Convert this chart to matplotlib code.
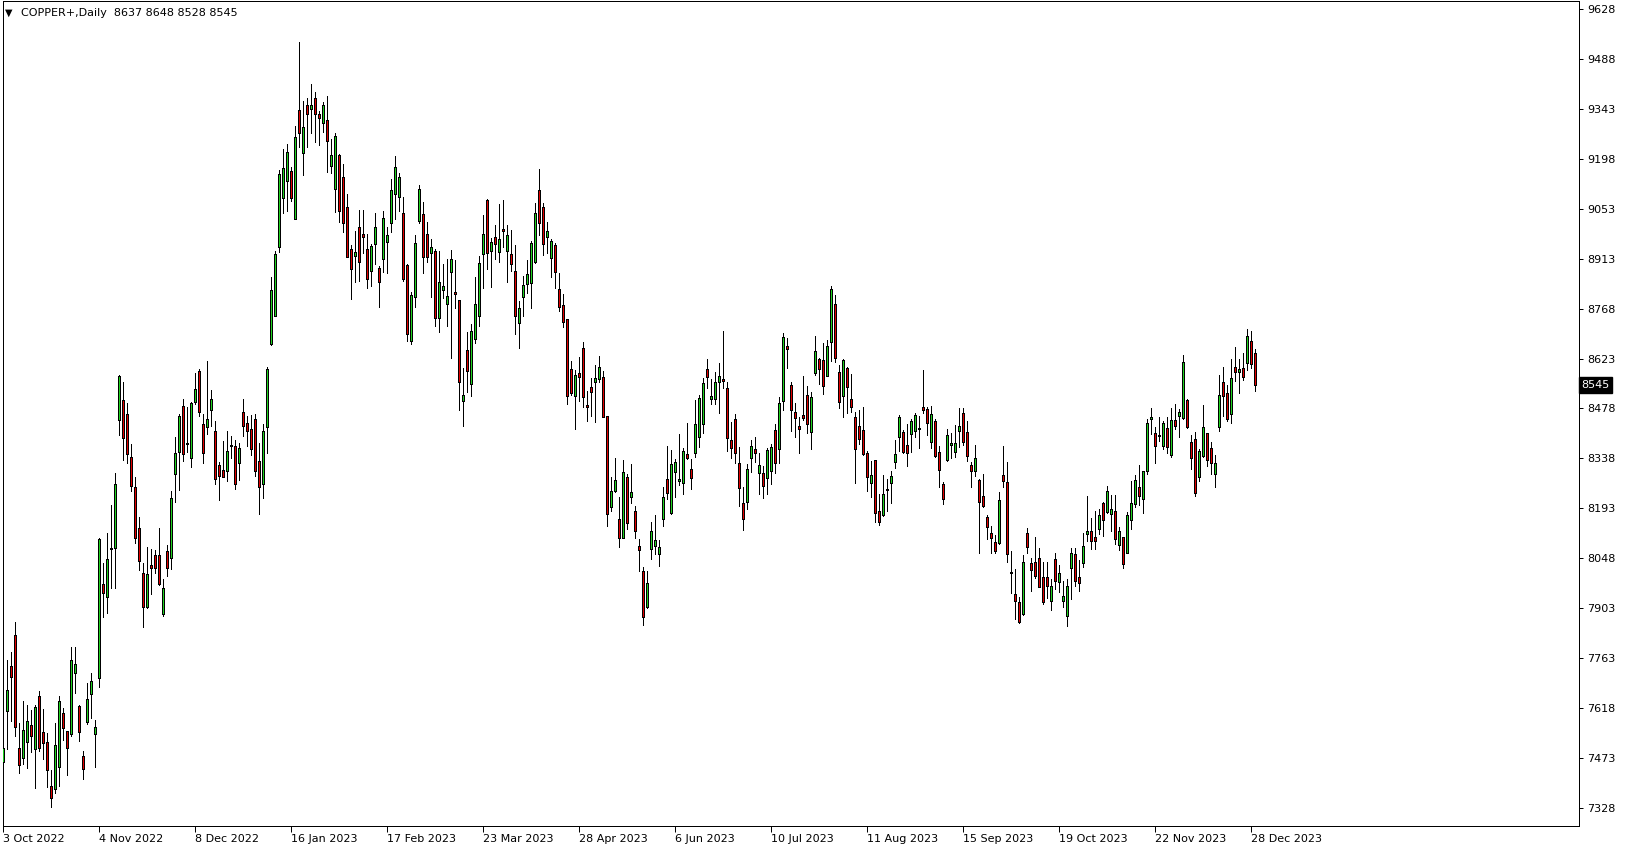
import matplotlib
matplotlib.use("Agg")
import matplotlib.pyplot as plt
import numpy as np

# COPPER+ daily candles, 3 Oct 2022 .. 29 Dec 2023
opens = [
    7458, 7607, 7736, 7825, 7501, 7470, 7518, 7566, 7498, 7649, 7545, 7516, 7389, 7383, 7446, 7602,
    7548, 7541, 7717, 7621, 7476, 7575, 7656, 7539, 7702, 7971, 7936, 8073, 8077, 8444, 8501, 8462,
    8337, 8253, 8135, 8003, 7907, 8026, 8055, 8055, 7885, 8066, 8046, 8288, 8353, 8484, 8378, 8334,
    8496, 8586, 8432, 8424, 8474, 8413, 8315, 8301, 8299, 8369, 8370, 8322, 8467, 8435, 8419, 8448,
    8327, 8260, 8426, 8664, 8745, 8944, 9085, 9134, 9162, 9023, 9338, 9215, 9352, 9340, 9372, 9326,
    9300, 9309, 9178, 9110, 9208, 9146, 9058, 8938, 8918, 9000, 8981, 8938, 8875, 8951, 8882, 8908,
    8959, 9012, 9095, 9086, 9040, 8891, 8672, 8800, 9019, 9038, 8980, 8925, 8932, 8738, 8819, 8778,
    8872, 8813, 8790, 8500, 8646, 8548, 8677, 8745, 8922, 9079, 8933, 8971, 8928, 8995, 8933, 8923,
    8874, 8725, 8800, 8836, 8839, 8901, 9108, 9058, 8971, 8911, 8949, 8822, 8776, 8735, 8592, 8515,
    8581, 8651, 8488, 8539, 8555, 8562, 8568, 8456, 8193, 8241, 8159, 8106, 8281, 8224, 8183, 8082,
    8010, 7907, 8073, 8083, 8059, 8159, 8274, 8178, 8296, 8270, 8264, 8346, 8304, 8351, 8397, 8432,
    8591, 8504, 8504, 8555, 8562, 8536, 8387, 8447, 8320, 8205, 8209, 8336, 8361, 8293, 8291, 8277,
    8298, 8416, 8360, 8500, 8658, 8546, 8467, 8427, 8459, 8517, 8409, 8581, 8620, 8618, 8571, 8669,
    8778, 8582, 8515, 8594, 8504, 8454, 8427, 8416, 8349, 8262, 8330, 8183, 8171, 8242, 8262, 8325,
    8397, 8409, 8373, 8403, 8414, 8422, 8481, 8476, 8382, 8442, 8352, 8260, 8330, 8374, 8352, 8414,
    8464, 8409, 8315, 8299, 8272, 8226, 8164, 8118, 8092, 8089, 8286, 8267, 8008, 7943, 7919, 7885,
    8118, 8032, 8035, 8048, 7991, 7993, 7923, 8043, 7979, 7924, 7880, 8017, 8058, 7991, 8032, 8115,
    8125, 8107, 8130, 8207, 8181, 8173, 8183, 8086, 8107, 8063, 8157, 8202, 8253, 8216, 8299, 8449,
    8406, 8398, 8371, 8421, 8344, 8445, 8457, 8451, 8502, 8380, 8390, 8280, 8341, 8406, 8363, 8288,
    8426, 8553, 8522, 8461, 8597, 8582, 8594, 8608, 8673, 8637,
]
highs = [
    7529, 7753, 7777, 7864, 7573, 7635, 7623, 7609, 7623, 7664, 7612, 7542, 7436, 7573, 7650, 7616,
    7550, 7790, 7790, 7623, 7491, 7686, 7717, 7580, 8106, 8032, 8118, 8200, 8291, 8574, 8553, 8493,
    8375, 8280, 8164, 8032, 8079, 8072, 8070, 8133, 7987, 8086, 8240, 8395, 8462, 8505, 8483, 8498,
    8579, 8592, 8462, 8616, 8531, 8442, 8323, 8384, 8413, 8399, 8387, 8378, 8505, 8456, 8459, 8462,
    8378, 8432, 8598, 8858, 8932, 9165, 9226, 9240, 9175, 9292, 9533, 9364, 9372, 9413, 9391, 9335,
    9360, 9378, 9254, 9271, 9211, 9182, 9096, 8949, 8989, 9050, 9050, 8981, 8952, 9042, 8889, 9047,
    9002, 9139, 9204, 9157, 9088, 8893, 8815, 8978, 9122, 9074, 9016, 8966, 8938, 8933, 8894, 8909,
    8935, 8906, 8790, 8594, 8699, 8721, 8858, 8917, 9036, 9082, 8970, 9007, 9067, 9079, 9007, 8992,
    8949, 8788, 8860, 8906, 8961, 9071, 9168, 9071, 9016, 8966, 8954, 8867, 8808, 8735, 8615, 8589,
    8627, 8670, 8529, 8565, 8603, 8629, 8587, 8456, 8281, 8336, 8224, 8329, 8288, 8317, 8197, 8101,
    8020, 8010, 8150, 8171, 8099, 8251, 8370, 8358, 8331, 8404, 8363, 8435, 8331, 8502, 8517, 8565,
    8621, 8562, 8582, 8608, 8701, 8553, 8440, 8462, 8368, 8253, 8317, 8387, 8395, 8349, 8312, 8365,
    8375, 8433, 8510, 8694, 8680, 8553, 8493, 8454, 8572, 8543, 8526, 8687, 8624, 8666, 8675, 8831,
    8805, 8603, 8621, 8597, 8577, 8467, 8475, 8483, 8356, 8327, 8330, 8232, 8286, 8274, 8298, 8387,
    8459, 8416, 8432, 8447, 8466, 8456, 8589, 8483, 8485, 8447, 8370, 8267, 8419, 8406, 8430, 8478,
    8478, 8443, 8325, 8373, 8274, 8289, 8171, 8139, 8113, 8238, 8370, 8325, 8067, 8015, 7936, 8056,
    8133, 8048, 8109, 8075, 8035, 8035, 7986, 8063, 8027, 7981, 7987, 8075, 8075, 8041, 8118, 8226,
    8161, 8183, 8187, 8209, 8255, 8229, 8229, 8137, 8109, 8179, 8269, 8286, 8315, 8298, 8447, 8480,
    8426, 8452, 8442, 8452, 8478, 8491, 8476, 8632, 8505, 8401, 8409, 8361, 8488, 8408, 8380, 8344,
    8574, 8597, 8546, 8620, 8654, 8620, 8637, 8707, 8702, 8648,
]
lows = [
    7400, 7496, 7578, 7535, 7428, 7455, 7443, 7489, 7385, 7491, 7468, 7388, 7330, 7369, 7391, 7523,
    7422, 7535, 7657, 7521, 7409, 7568, 7587, 7446, 7676, 7878, 7888, 7962, 7962, 8401, 8329, 8320,
    8241, 8091, 8013, 7849, 7904, 7944, 8005, 7969, 7881, 7996, 8016, 8209, 8243, 8327, 8353, 8310,
    8490, 8456, 8322, 8405, 8428, 8260, 8214, 8280, 8270, 8334, 8246, 8272, 8399, 8370, 8344, 8284,
    8174, 8221, 8351, 8661, 8745, 8930, 9042, 9048, 9077, 9023, 9232, 9151, 9230, 9271, 9247, 9237,
    9276, 9160, 9157, 9045, 9016, 8987, 8913, 8792, 8841, 8846, 8925, 8824, 8832, 8893, 8771, 8872,
    8867, 8987, 9023, 9047, 8846, 8673, 8663, 8769, 9012, 8869, 8901, 8798, 8717, 8699, 8797, 8717,
    8624, 8768, 8475, 8428, 8526, 8514, 8666, 8717, 8824, 8880, 8829, 8909, 8899, 8942, 8841, 8875,
    8692, 8651, 8744, 8810, 8768, 8898, 8978, 8920, 8927, 8858, 8826, 8760, 8714, 8491, 8517, 8418,
    8500, 8483, 8443, 8457, 8440, 8555, 8452, 8140, 8183, 8238, 8080, 8104, 8132, 8207, 8106, 8011,
    7854, 7904, 8044, 8059, 8025, 8140, 8217, 8173, 8224, 8257, 8232, 8332, 8246, 8339, 8368, 8406,
    8538, 8491, 8491, 8466, 8538, 8356, 8336, 8320, 8198, 8128, 8188, 8296, 8325, 8233, 8221, 8232,
    8259, 8293, 8322, 8475, 8596, 8414, 8397, 8349, 8445, 8408, 8360, 8574, 8548, 8519, 8571, 8616,
    8611, 8478, 8452, 8466, 8469, 8264, 8376, 8344, 8241, 8224, 8152, 8142, 8168, 8184, 8207, 8307,
    8356, 8351, 8313, 8354, 8395, 8363, 8466, 8402, 8363, 8339, 8253, 8202, 8328, 8334, 8337, 8368,
    8373, 8328, 8251, 8283, 8062, 8195, 8101, 8061, 8062, 8087, 8251, 8037, 7945, 7870, 7859, 7883,
    8063, 7953, 7990, 7963, 7916, 7931, 7897, 7957, 7950, 7905, 7852, 7929, 7967, 7953, 8022, 8097,
    8073, 8073, 8116, 8110, 8176, 8125, 8087, 8070, 8017, 8063, 8130, 8195, 8200, 8178, 8289, 8403,
    8322, 8384, 8360, 8349, 8339, 8418, 8397, 8447, 8423, 8303, 8227, 8270, 8339, 8313, 8289, 8253,
    8413, 8457, 8443, 8437, 8557, 8522, 8560, 8589, 8594, 8528,
]
closes = [
    7500, 7667, 7705, 7561, 7452, 7551, 7577, 7535, 7619, 7500, 7513, 7437, 7356, 7508, 7635, 7556,
    7500, 7753, 7741, 7547, 7440, 7641, 7694, 7559, 8102, 7947, 8043, 8077, 8259, 8572, 8392, 8348,
    8255, 8106, 8039, 7907, 8000, 8017, 8017, 7973, 7960, 8017, 8219, 8351, 8456, 8348, 8377, 8493,
    8534, 8469, 8351, 8447, 8504, 8274, 8284, 8281, 8355, 8373, 8259, 8363, 8428, 8414, 8361, 8299,
    8253, 8413, 8591, 8819, 8922, 9153, 9170, 9216, 9085, 9259, 9271, 9288, 9326, 9352, 9326, 9314,
    9352, 9250, 9208, 9263, 9048, 9013, 8913, 8879, 8928, 8901, 8973, 8850, 8946, 9000, 8841, 9026,
    8978, 9108, 9173, 9144, 8850, 8692, 8805, 8954, 9109, 8913, 8913, 8942, 8740, 8843, 8832, 8802,
    8908, 8807, 8555, 8517, 8587, 8701, 8778, 8896, 8981, 8925, 8957, 8951, 8966, 8988, 8978, 8893,
    8745, 8767, 8834, 8865, 8954, 9040, 9012, 8951, 8989, 8961, 8872, 8771, 8728, 8514, 8522, 8574,
    8568, 8512, 8481, 8526, 8565, 8597, 8452, 8174, 8240, 8272, 8104, 8294, 8149, 8236, 8126, 8070,
    7878, 7974, 8125, 8099, 8078, 8222, 8235, 8317, 8323, 8274, 8355, 8334, 8277, 8433, 8507, 8550,
    8570, 8514, 8553, 8572, 8558, 8394, 8365, 8349, 8248, 8159, 8304, 8370, 8349, 8315, 8256, 8358,
    8366, 8320, 8493, 8683, 8648, 8475, 8451, 8418, 8451, 8432, 8510, 8644, 8591, 8544, 8658, 8821,
    8622, 8498, 8618, 8539, 8483, 8360, 8389, 8347, 8281, 8286, 8176, 8150, 8233, 8246, 8283, 8347,
    8454, 8354, 8349, 8442, 8459, 8418, 8474, 8437, 8461, 8341, 8301, 8216, 8402, 8378, 8378, 8427,
    8382, 8342, 8299, 8334, 8208, 8198, 8137, 8104, 8068, 8214, 8270, 8058, 8004, 7924, 7864, 8035,
    8080, 8014, 7996, 7963, 7921, 7966, 7967, 7982, 8005, 7938, 7967, 8061, 7982, 7974, 8082, 8125,
    8097, 8097, 8171, 8158, 8240, 8188, 8101, 8125, 8029, 8171, 8207, 8272, 8227, 8298, 8435, 8453,
    8371, 8402, 8435, 8366, 8445, 8428, 8467, 8611, 8426, 8334, 8235, 8355, 8424, 8329, 8322, 8320,
    8517, 8515, 8448, 8565, 8582, 8591, 8568, 8687, 8605, 8545,
]

date_labels = ["3 Oct 2022", "4 Nov 2022", "8 Dec 2022", "16 Jan 2023", "17 Feb 2023",
               "23 Mar 2023", "28 Apr 2023", "6 Jun 2023", "10 Jul 2023", "11 Aug 2023",
               "15 Sep 2023", "19 Oct 2023", "22 Nov 2023", "28 Dec 2023"]
bars_per_label = 24
price_labels = ["9628", "9488", "9343", "9198", "9053", "8913", "8768", "8623",
                "8478", "8338", "8193", "8048", "7903", "7763", "7618", "7473", "7328"]
symbol = "COPPER+,Daily"

W, H = 1629, 850
px = 72 / 100  # one pixel in points

fig = plt.figure(figsize=(W / 100, H / 100), dpi=100)
fig.patch.set_facecolor("white")
ax = fig.add_axes([2.7 / W, 1 - 826 / H, (1579 - 2.7) / W, 825 / H])

o = np.array(opens, dtype=float)
h = np.array(highs, dtype=float)
l = np.array(lows, dtype=float)
c = np.array(closes, dtype=float)
x = np.arange(len(o))

up = c >= o
colors = np.where(up, "#1fd21f", "#e00000")

# wicks then bodies
ax.vlines(x, l, h, color="black", linewidth=px, antialiased=False, zorder=2)
ax.bar(x, np.abs(c - o), bottom=np.minimum(o, c), width=0.5, color=colors,
       edgecolor="black", linewidth=px, antialiased=False, zorder=3)

# axes limits (4 px per bar, price scale of the screenshot)
ax.set_xlim(-0.15, 393.9)
ax.set_ylim(7275, 9652)

# price axis on the right
ax.yaxis.tick_right()
ax.set_yticks(np.linspace(float(price_labels[0]), float(price_labels[-1]), len(price_labels)))
ax.set_yticklabels(price_labels)
ax.tick_params(axis="y", direction="out", length=3, width=px, pad=3,
               labelsize=8, colors="black")

# date axis at the bottom, labels start at the tick
ax.set_xticks(np.arange(len(date_labels)) * bars_per_label)
ax.set_xticklabels(date_labels)
ax.tick_params(axis="x", direction="out", length=4, width=px, pad=2,
               labelsize=8, colors="black")
for lbl in ax.get_xticklabels():
    lbl.set_horizontalalignment("left")

for sp in ax.spines.values():
    sp.set_color("black")
    sp.set_linewidth(px)

# last price tag
ax.text(1.0015, closes[-1], f"{closes[-1]}", transform=ax.get_yaxis_transform(),
        ha="left", va="center", color="white", fontsize=8, zorder=5, clip_on=False,
        bbox=dict(boxstyle="square,pad=0.25", facecolor="black", edgecolor="black"))

# header
fig.text(5 / W, 1 - 13 / H, "\u25BC", fontsize=7, va="center", ha="left")
fig.text(21 / W, 1 - 13 / H,
         f"{symbol}  {opens[-1]} {highs[-1]} {lows[-1]} {closes[-1]}",
         fontsize=8, va="center", ha="left")

fig.savefig("out.png", dpi=100, facecolor="white")
